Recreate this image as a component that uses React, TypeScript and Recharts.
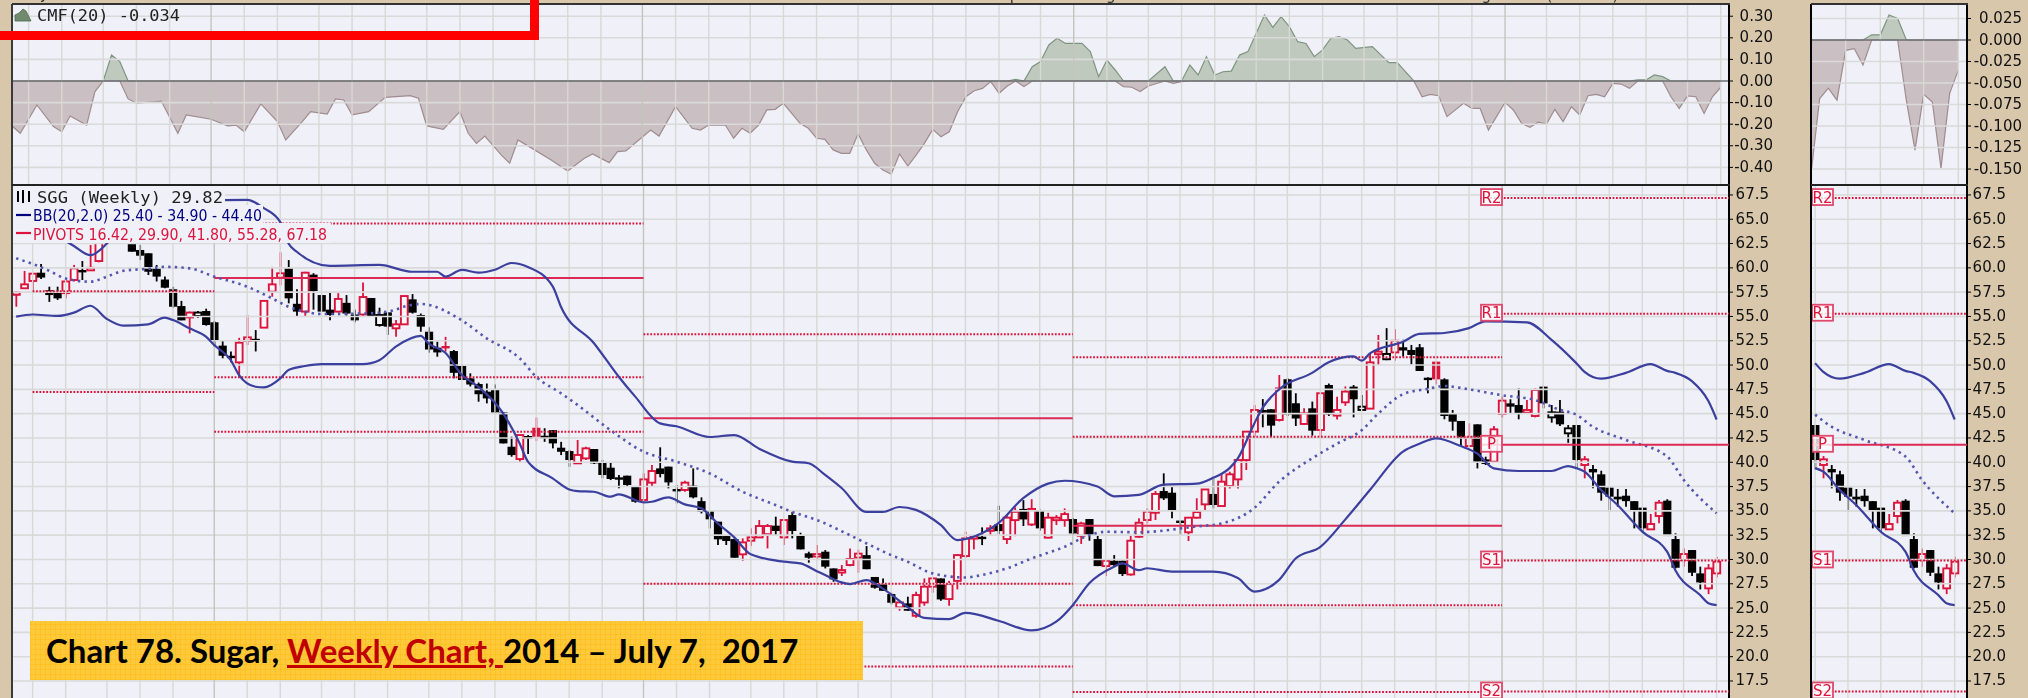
import React from "react";
import { ComposedChart, Bar, Line, Area, XAxis, YAxis, ReferenceLine } from "recharts";

const candleOpen = [57.34,57.9,58.65,59.5,57.7,57.55,57.4,58.75,59.78,59.85,60.7,63.2,64.5,63.6,62.5,61.84,61.5,59.95,58.8,57.8,56.07,54.9,55.05,55.56,54.4,52.0,50.96,50.28,52.5,52.7,53.85,57.55,59.0,59.95,56.3,55.5,59.3,57.2,55.7,55.5,56.4,55.2,55.2,56.9,54.12,55.42,53.78,54.19,56.76,55.15,53.43,51.79,51.96,51.44,49.9,48.63,48.05,47.26,47.43,45.13,41.6,40.33,42.7,43.55,42.73,43.3,41.5,41.15,
39.89,40.4,41.36,39.96,39.44,38.45,38.62,37.56,36.12,37.9,39.37,39.55,37.25,37.15,37.59,36.0,35.0,33.89,32.41,32.1,30.53,31.93,32.27,32.6,33.48,32.27,34.57,32.5,30.63,30.39,30.8,29.08,28.67,29.43,30.2,30.45,28.2,27.47,26.44,25.07,25.48,24.21,25.58,27.2,28.05,25.93,27.8,30.35,32.17,32.34,33.03,33.64,32.1,34.05,35.2,33.6,35.0,32.24,34.05,34.05,34.16,32.44,34.16,32.1,29.32,29.87,29.87,28.46,32.34,
34.06,34.81,37.04,36.87,34.0,32.8,34.3,35.67,36.74,35.5,37.56,38.24,40.23,43.15,45.38,45.45,44.35,48.54,46.07,43.94,45.55,43.32,47.95,44.8,46.17,47.78,45.38,45.52,51.2,50.6,51.3,51.83,51.55,51.83,48.7,50.35,48.53,45.03,44.25,41.67,43.9,40.3,40.06,44.97,46.06,45.89,45.1,44.76,47.78,44.62,45.21,42.98,43.83,39.72,39.31,38.76,37.39,36.46,36.56,36.0,35.33,33.1,34.47,36.05,32.1,29.94,30.97,28.57,27.03,28.57];
const candleHigh = [57.55,59.68,59.4,60.4,58.06,58.06,58.75,60.3,60.7,62.35,63.9,65,65,64,63.2,62.35,61.5,60.3,59.1,58.06,56.6,55.5,55.56,55.8,54.5,52.5,51.4,52.8,55.15,53.6,56.6,60.1,61.6,60.8,57.8,59.6,59.45,57.2,57.4,57.4,57.2,55.7,58.5,56.9,55.9,55.42,54.63,57.1,57.3,55.3,53.9,52.4,52.9,51.55,50,49.15,48.2,48.1,48,45.13,42.63,42.8,42.8,44.6,43.5,43.3,42.1,41.26,
42.29,41.6,41.36,40.23,39.96,38.69,38.62,37.56,38.86,39.72,41.54,39.55,37.66,38.1,39.37,36.39,35.0,33.89,32.5,32.17,32.17,33.2,34.06,33.65,34.4,34.13,34.9,32.75,30.8,31.49,30.97,29.08,29.43,31.14,31.0,31.38,28.2,28.05,26.58,25.75,26.17,26.68,28.05,28.15,28.05,27.8,30.56,32.85,32.5,33.3,33.54,35.53,34.57,35.36,36.1,36.2,35.15,34.8,34.57,35.25,34.23,33.88,34.16,32.44,30.0,30.45,29.87,32.44,34.23,
35.26,37.04,38.86,37.5,34.0,34.3,36.3,37.2,38.35,38.8,39.03,40.23,43.15,45.9,46.5,45.45,48.98,48.64,47.1,45.55,46.24,47.1,48.1,46.75,47.8,47.95,46.92,51.2,53.1,53.8,53.7,52.6,52.07,52.17,48.74,50.35,48.64,45.38,44.25,44.0,43.9,40.57,43.73,46.75,46.48,47.6,46.4,47.6,47.78,45.89,46.4,43.83,43.83,40.64,39.72,39.13,37.39,37.25,37.25,36.0,35.33,34.68,36.12,36.2,32.69,31.14,30.97,29.26,29.53,30.28];
const candleLow = [56.0,57.9,57.55,58.85,56.5,56.7,56.86,58.6,58.75,59.78,60.57,63,63.2,63,61.66,60.8,59.26,58.6,57.9,55.9,54.6,53.26,54.87,54.05,51.9,50.7,50.28,48.8,52.06,51.4,53.85,57.03,58.2,56.35,55.0,55.0,55.7,55.5,54.6,55.4,55.1,54.4,55.0,55.0,53.95,53.1,52.9,54.19,55.3,53.43,51.27,50.86,51.38,48.63,48.46,47.8,46.23,46.06,45.03,41.94,40.57,40.06,40.85,42.2,42.1,41.43,40.74,39.54,
39.89,40.23,39.82,38.35,38.17,37.32,37.49,35.84,36.12,37.49,38.45,37.32,35.77,36.97,36.29,34.74,33.2,31.49,31.49,30.18,29.87,31.38,32.27,31.14,32.5,31.49,32.17,31.04,29.67,29.94,29.08,27.71,28.3,29.3,28.64,29.0,27.0,26.78,25.38,24.73,24.73,24.0,25.24,26.58,25.75,25.24,26.92,30.2,31.04,31.48,32.5,32.58,31.6,32.4,33.44,33.44,32.96,32.17,33.54,33.37,32.6,31.6,31.93,29.32,28.3,29.3,28.3,28.33,32.24,
33.7,34.06,36.12,34.23,32.5,31.9,34.2,35.09,35.26,35.5,37.3,37.3,39.2,42.63,43.6,42.63,44.2,44.76,43.73,43.84,42.74,42.63,44.76,44.4,45.8,44.62,45.3,45.52,50.0,50.5,50.45,50.87,50.08,49.39,47.09,48.0,44.42,43.25,41.6,41.6,39.37,39.72,39.96,44.62,44.97,44.42,45.03,44.62,45.55,44.07,43.73,42.0,39.27,38.35,37.32,36.05,34.92,35.43,35.43,33.2,32.86,33.03,33.72,32.41,29.08,29.26,28.3,26.92,26.44,28.16];
const candleClose = [57.48,58.3,59.4,59.0,57.2,56.86,58.6,59.95,59.67,60.0,63.4,64.5,63.5,63.0,61.66,61.25,59.6,59.1,57.96,56.0,54.6,55.4,55.4,54.12,52.5,50.96,50.76,52.3,52.85,52.6,56.6,58.3,59.44,56.86,55.5,59.5,57.6,55.5,55.15,56.8,55.3,54.6,57.0,55.0,55.15,53.95,54.19,57.1,55.39,53.95,51.6,51.3,51.75,49.2,48.46,48.0,47.0,46.57,45.13,41.94,40.74,42.8,42.46,42.63,42.63,41.94,41.08,40.23,
40.75,41.43,39.89,38.69,38.28,38.28,37.66,35.94,38.24,39.1,38.79,37.93,37.04,37.9,36.39,34.9,34.13,32.07,31.9,30.18,31.76,32.27,33.44,33.44,32.93,34.06,32.93,31.04,30.18,30.56,29.26,27.95,28.91,30.05,30.6,29.0,27.09,26.78,25.55,25.58,24.73,26.34,27.2,28.05,25.89,27.47,30.45,32.17,32.4,32.24,33.2,32.92,34.3,34.9,34.12,35.2,33.2,34.3,34.3,34.67,32.68,33.7,32.51,29.32,29.87,29.42,28.5,31.93,33.78,
34.92,36.74,36.29,34.99,33.9,34.3,34.87,37.2,35.6,38.0,38.76,40.23,43.15,45.38,45.1,43.77,47.6,44.93,44.5,45.04,43.25,47.1,44.93,45.38,47.27,46.48,45.72,50.28,51.38,51.14,52.5,51.5,51.04,49.39,48.53,48.53,44.76,44.18,42.46,42.53,40.06,39.82,43.39,46.34,45.72,44.97,45.38,47.44,46.06,45.14,43.9,43.49,40.23,40.3,38.96,36.87,36.46,36.18,36.0,35.09,33.2,33.65,35.84,32.41,29.15,30.56,28.64,27.64,29.08,29.77];
const hollowBlackWeeks = [22, 44, 163, 166, 186, 188];
const filledRedWeeks = [52, 63, 172];

const upperBand: number[][] = [[3,64.5],[5,63.3],[7,62.25],[9,61.3],[11,62.5],[13,64.5],[15,65.5],[19,66.5],[25,66.97],[28,67],[30,66.15],[32,64.7],[33,62.5],[34,61.66],[38,60.2],[44,60.3],[48,59.6],[51,59.6],[52,59.1],[54,59.8],[56,59.5],[58,59.8],[60,60.5],[62,60.1],[65,58.1],[66,56],[70,52.25],[73,48.8],[75,46.75],[78,44.0],[80,43.7],[84,42.6],[87,42.8],[90,41.4],[94,40.06],[96,39.9],[98,38.7],[100,37.35],[103,34.9],[105,34.9],[107,35.4],[109,35.1],[112,33.55],[114,32],[117,32.7],[119,33.75],[122,36.3],[125,37.8],[127,38.1],[131,37.5],[133,36.5],[136,36.65],[139,37.7],[143,37.8],[145,38.4],[147,39.4],[148,40.4],[150,44],[151,45.6],[153,47.5],[157,49.2],[159,50.3],[162,50.9],[163,50.45],[164,51.2],[168,52.4],[170,53.2],[173,53.3],[176,53.8],[178,54.5],[183,54.4],[186,52.6],[189,50.2],[190,49.3],[192,48.6],[195,49.2],[198,50.1],[200,49.4],[201,49.2],[203,48.35],[205,46.3],[206,44.4]];
const middleBand: number[][] = [[0,60.98],[2,60.4],[4,59.7],[6,58.9],[9,58.58],[11,59.1],[13,59.7],[16,59.9],[18,60.1],[21,59.95],[24,59.1],[28,58.06],[31,56.86],[33,56.0],[35,55.5],[37,55.25],[42,55.3],[45,55.5],[48,56.2],[49,56.28],[54,54.6],[57,52.75],[61,50.7],[63,48.8],[66,47.1],[68,45.9],[72,43.3],[76,41.1],[80,40.06],[84,38.86],[88,36.97],[92,35.6],[94,34.9],[97,34.06],[101,32.5],[103,31.66],[106,30.45],[108,29.77],[111,28.57],[115,28.15],[117,28.4],[120,29.08],[123,30.1],[127,31.3],[130,32.5],[132,32.85],[136,32.8],[143,33.4],[146,33.7],[150,35.3],[153,38],[157,40.4],[160,41.9],[163,43.3],[165,45],[168,47],[171,47.55],[173,47.85],[176,47.5],[180,46.9],[184,46.4],[187,45.4],[189,44.9],[191,43.66],[195,42.3],[200,40.6],[202,38.2],[206,34.75]];
const lowerBand: number[][] = [[0,54.98],[2,55.2],[5,55.05],[7,55.39],[9,56.1],[11,54.74],[13,54.05],[16,54.19],[18,54.87],[19,54.63],[21,53.78],[23,52.92],[24,52.06],[26,50.5],[27,48.97],[29,47.77],[30,47.7],[32,48.63],[33,49.49],[35,49.9],[37,50.1],[42,50.1],[44,50.5],[46,51.9],[49,53.0],[50,52.2],[52,51.27],[54,48.97],[56,47.77],[59,45.03],[61,41.94],[62,40.06],[65,38.34],[67,37.2],[68,37.04],[70,36.97],[72,36.46],[73,36.7],[76,35.88],[77,35.94],[79,36.39],[81,35.67],[83,35.26],[85,33.7],[87,32.27],[89,30.53],[93,29.77],[95,29.6],[97,28.8],[98,28.4],[100,27.64],[101,27.47],[103,27.88],[105,27.0],[108,25.1],[110,24.0],[113,23.87],[115,24.5],[119,23.7],[123,22.7],[126,23.6],[128,25.3],[130,27.55],[133,29.25],[134,29.6],[136,28.9],[137,29.1],[140,28.75],[145,28.75],[148,28.1],[150,26.7],[153,27.9],[155,30.1],[158,31.3],[161,34.1],[164,37.15],[168,41.1],[170,41.9],[172,42.46],[175,41.67],[177,40.9],[179,39.37],[182,39.1],[186,39.1],[188,39.6],[189,39.4],[190,39.03],[192,37.15],[194,35.6],[197,32.86],[200,30.8],[201,28.9],[204,26.34],[205,25.5],[206,25.3]];

const weeklyCmf: number[][] = [[0,-.208],[1,-.242],[3,-.111],[5,-.211],[6,-.235],[7,-.162],[9,-.204],[10,-.049],[11,0],[12,.12],[13,.09],[14,-.083],[15,-.103],[18,-.093],[20,-.242],[21,-.157],[24,-.177],[26,-.208],[27,-.204],[28,-.235],[30,-.106],[32,-.188],[33,-.273],[35,-.188],[36,-.142],[38,-.153],[39,-.083],[40,-.088],[41,-.157],[43,-.142],[45,-.076],[48,-.068],[49,-.08],[50,-.208],[52,-.224],[54,-.142],[55,-.242],[56,-.289],[57,-.255],[59,-.343],[60,-.381],[61,-.273],[63,-.319],[65,-.366],[67,-.417],[69,-.358],[70,-.338],[72,-.378],[73,-.327],[74,-.324],[77,-.227],[78,-.255],[80,-.119],[82,-.219],[83,-.227],[84,-.204],[86,-.204],[87,-.265],[88,-.219],[89,-.242],[90,-.204],[91,-.134],[92,-.131],[93,-.103],[95,-.196],[96,-.219],[97,-.265],[98,-.27],[99,-.319],[100,-.335],[101,-.335],[102,-.245],[103,-.319],[104,-.381],[105,-.412],[106,-.432],[107,-.338],[108,-.394],[109,-.343],[110,-.289],[111,-.224],[112,-.258],[113,-.235],[114,-.142],[115,-.073],[116,-.045],[117,-.034],[118,-.003],[119,-.057],[120,-.023],[121,.008],[122,-.026],[123,.066],[124,.09],[125,.167],[126,.198],[127,.174],[129,.174],[130,.136],[131,.02],[132,.097],[133,.051],[134,-.026],[135,-.029],[136,-.049],[137,-.023],[139,.066],[140,-.011],[141,-.003],[142,.074],[143,.028],[144,.113],[145,.028],[146,.043],[147,.046],[148,.12],[149,.136],[150,.221],[151,.306],[152,.248],[153,.298],[154,.252],[155,.182],[156,.174],[157,.113],[158,.144],[159,.198],[160,.205],[161,.19],[162,.151],[164,.159],[166,.085],[167,.085],[169,0],[170,-.073],[171,-.062],[172,-.068],[173,-.165],[175,-.103],[176,-.127],[177,-.127],[178,-.227],[180,-.099],[181,-.134],[182,-.196],[183,-.215],[184,-.191],[185,-.199],[186,-.131],[187,-.188],[188,-.119],[189,-.157],[190,-.068],[191,-.062],[192,-.073],[193,-.011],[194,-.014],[195,-.034],[196,.005],[197,.005],[198,.028],[199,.02],[200,-.073],[201,-.127],[202,-.069],[203,-.073],[204,-.15],[205,-.073],[206,-.029]];
const dailyCmf: number[][] = [[189,-.156],[190,-.068],[191,-.056],[192,-.07],[193,-.012],[194,-.01],[195,-.029],[196,.006],[197,.006],[198,.029],[199,.025],[200,-.07],[201,-.128],[202,-.063],[203,-.072],[204,-.149],[205,-.062],[206,-.035]];

const monthWeeks = [2,6,11,15,19,24,28,32,37,41,45,50,54,58,63,67,71,76,80,84,89,93,97,102,106,111,115,119,124,128,132,137,141,145,150,154,158,163,167,172,176,180,185,189,193,197,202,206];
const yearWeeks = [24, 76, 128, 180];
const priceTicks = [67.5,65,62.5,60,57.5,55,52.5,50,47.5,45,42.5,40,37.5,35,32.5,30,27.5,25,22.5,20,17.5];
const weeklyCmfTicks = [0.3,0.2,0.1,0,-0.1,-0.2,-0.3,-0.4];
const dailyCmfTicks = [0.025,0,-0.025,-0.05,-0.075,-0.1,-0.125,-0.15];

const pivotNames = ["R2","R1","P","S1","S2"];
const pivotLevels = [67.18,55.28,41.8,29.9,16.42];
const pastDotted: number[][] = [[2,24,57.59],[2,24,47.23],[24,76,64.55],[24,76,48.74],[24,76,43.15],[76,128,53.17],[76,128,27.5],[76,128,19.0],[128,180,50.8],[128,180,42.63],[128,180,25.28],[128,180,16.37]];
const pastSolid: number[][] = [[24,76,58.96],[76,128,44.52],[128,180,33.48]];

const BG = "#EFF0F8", TAN = "#D8C7AB", CRIMSON = "#DC143C", BAND = "#3B3F9E";

type Row = any;
const rows: Row[] = candleOpen.map((o, i) => ({
  i, open: o, high: candleHigh[i], low: candleLow[i], close: candleClose[i],
  range: [candleLow[i], candleHigh[i]],
  hollowBlack: hollowBlackWeeks.includes(i), filledRed: filledRedWeeks.includes(i),
}));
rows.push({ i: rows.length });
upperBand.forEach(([w, v]) => { rows[w].upper = v; });
middleBand.forEach(([w, v]) => { rows[w].middle = v; });
lowerBand.forEach(([w, v]) => { rows[w].lower = v; });
const cmfRows = (src: number[][], from: number) => {
  const out: Row[] = rows.slice(from).map((r) => ({ i: r.i }));
  src.forEach(([w, v]) => {
    const r = out[w - from];
    r.pos = Math.max(v, 0);
    r.neg = Math.min(v, 0);
  });
  return out;
};

const Candle = (props: any) => {
  const { x, width, y, height, payload } = props;
  if (payload.open == null) return <g />;
  const k = height / (payload.high - payload.low);
  const py = (v: number) => y + (payload.high - v) * k;
  const cx = x + width / 2;
  const up = payload.close >= payload.open;
  const color = up ? (payload.hollowBlack ? "#000" : CRIMSON) : payload.filledRed ? CRIMSON : "#000";
  const top = py(Math.max(payload.open, payload.close));
  const bot = py(Math.min(payload.open, payload.close));
  const h = Math.max(bot - top, up ? 2.5 : 2.4);
  return (
    <g>
      <line x1={cx} x2={cx} y1={y} y2={y + height} stroke={color} strokeWidth={1.8} />
      {up ? (
        <rect x={cx - 3.4} width={6.8} y={top} height={h} fill="#F8F8FD" stroke={color} strokeWidth={1.9} />
      ) : (
        <rect x={cx - 4.1} width={8.2} y={top} height={h} fill={color} />
      )}
    </g>
  );
};

const tick = (plotW: number, end: number, digits: number) => (p: any) => (
  <text x={plotW + end} y={p.y + 4.5} textAnchor="end" fontSize={15} fontFamily="DejaVu Sans" fill="#111">
    {Number(p.payload.value).toFixed(digits)}
  </text>
);

const gridColor = "#DADADA";
const hLines = (ticks: number[]) =>
  ticks.map((t) => <ReferenceLine key={`h${t}`} y={t} stroke={gridColor} strokeWidth={1.6} />);
const vLines = (weeks: number[]) =>
  weeks.map((w) => (
    <ReferenceLine key={`v${w}`} x={w} stroke={yearWeeks.includes(w) ? "#C4C4BE" : "#D8D8D4"} strokeWidth={1.4} />
  ));

function CmfChart({ left, plotW, axisW, data, domain, ticks, end, digits, weeks }: any) {
  return (
    <ComposedChart width={plotW + axisW} height={179} data={data} margin={{ top: 0, right: 0, bottom: 0, left: 0 }}
      style={{ position: "absolute", left, top: 5 }}>
      <XAxis dataKey="i" hide interval={0} />
      <YAxis orientation="right" width={axisW} domain={domain} ticks={ticks} interval={0} allowDataOverflow
        axisLine={{ stroke: "#000", strokeWidth: 2 }} tickLine={{ stroke: "#000" }} tickSize={4}
        tick={tick(plotW, end, digits)} />
      {hLines(ticks.filter((t: number) => t !== 0))}
      {vLines(weeks)}
      <Area dataKey="neg" type="linear" connectNulls isAnimationActive={false} stroke="#A08C8E" strokeWidth={1.2} fill="#A58E8C" fillOpacity={0.5} dot={false} activeDot={false} />
      <Area dataKey="pos" type="linear" connectNulls isAnimationActive={false} stroke="#7F9480" strokeWidth={1.2} fill="#8FA284" fillOpacity={0.5} dot={false} activeDot={false} />
      <ReferenceLine y={0} stroke="#6E6E72" strokeWidth={1.6} />
    </ComposedChart>
  );
}

const priceDomain: [number, number] = [15.75, 68.42];

function PriceChart({ left, plotW, axisW, data, end, weeks, past }: any) {
  return (
    <ComposedChart width={plotW + axisW} height={512} data={data} margin={{ top: 0, right: 0, bottom: 0, left: 0 }}
      style={{ position: "absolute", left, top: 186 }}>
      <XAxis dataKey="i" hide interval={0} />
      <YAxis orientation="right" width={axisW} domain={priceDomain} ticks={priceTicks} interval={0} allowDataOverflow
        axisLine={{ stroke: "#000", strokeWidth: 2 }} tickLine={{ stroke: "#000" }} tickSize={4}
        tick={tick(plotW, end, 1)} />
      {hLines(priceTicks)}
      {vLines(weeks)}
      {past && pastDotted.map(([a, b, v], n) => (
        <ReferenceLine key={`d${n}`} segment={[{ x: a, y: v }, { x: b, y: v }]} stroke={CRIMSON} strokeWidth={2} strokeDasharray="1.8 1.6" />
      ))}
      {past && pastSolid.map(([a, b, v], n) => (
        <ReferenceLine key={`s${n}`} segment={[{ x: a, y: v }, { x: b, y: v }]} stroke="#DC2A55" strokeWidth={2} />
      ))}
      <Line type="monotone" dataKey="upper" connectNulls dot={false} activeDot={false} isAnimationActive={false} stroke={BAND} strokeWidth={2.2} />
      <Line type="monotone" dataKey="lower" connectNulls dot={false} activeDot={false} isAnimationActive={false} stroke={BAND} strokeWidth={2.2} />
      <Line type="monotone" dataKey="middle" connectNulls dot={false} activeDot={false} isAnimationActive={false} stroke="#5357AE" strokeWidth={2.6} strokeDasharray="2.4 4.2" />
      <Bar dataKey="range" shape={Candle} isAnimationActive={false} />
    </ComposedChart>
  );
}

const PivotTag = ({ viewBox, name }: any) => (
  <g>
    <rect x={viewBox.x + 1} y={viewBox.y - 9} width={21} height={16} fill="#FFFFFF" fillOpacity={0.8} stroke="#E0486C" strokeWidth={1.8} />
    <text x={viewBox.x + 11.5} y={viewBox.y + 4.5} textAnchor="middle" fontSize={15} fontFamily="DejaVu Sans" fill={CRIMSON}>{name}</text>
  </g>
);

function PivotOverlay({ left, width }: any) {
  return (
    <ComposedChart width={width} height={512} data={rows.slice(-2)} margin={{ top: 0, right: 0, bottom: 0, left: 0 }}
      style={{ position: "absolute", left, top: 186 }}>
      <XAxis dataKey="i" hide />
      <YAxis hide domain={priceDomain} allowDataOverflow />
      {pivotLevels.map((v, n) => (
        <ReferenceLine key={pivotNames[n]} y={v} stroke={pivotNames[n] === "P" ? "#DC2A55" : CRIMSON}
          strokeWidth={pivotNames[n] === "P" ? 2.2 : 2} strokeDasharray={pivotNames[n] === "P" ? undefined : "1.8 1.6"}
          label={(p: any) => <PivotTag viewBox={p.viewBox} name={pivotNames[n]} />} />
      ))}
    </ComposedChart>
  );
}

const box = (left: number, top: number, width: number, height: number, background: string): React.CSSProperties =>
  ({ position: "absolute", left, top, width, height, background });

export default function App() {
  const rightRows = rows.slice(189);
  const rightWeeks = monthWeeks.filter((w) => w >= 189);
  return (
    <div style={{ position: "absolute", left: 0, top: 0, width: 2028, height: 698, overflow: "hidden", background: TAN }}>
      <div style={{ position: "absolute", left: 0, top: 0, width: 2028, height: 698, filter: "blur(0.5px)" }}>
        <div style={box(12, 4, 1717, 694, BG)} />
        <div style={box(1811, 4, 156, 694, BG)} />

        <CmfChart left={12} plotW={1717} axisW={70} data={cmfRows(weeklyCmf, 0)} domain={[-0.477, 0.352]} ticks={weeklyCmfTicks} end={44} digits={2} weeks={monthWeeks} />
        <CmfChart left={1811} plotW={156} axisW={61} data={cmfRows(dailyCmf, 189)} domain={[-0.1674, 0.0407]} ticks={dailyCmfTicks} end={55} digits={3} weeks={rightWeeks} />
        <PriceChart left={12} plotW={1717} axisW={70} data={rows} end={40} weeks={monthWeeks} past />
        <PriceChart left={1811} plotW={156} axisW={61} data={rightRows} end={39} weeks={rightWeeks} />
        <PivotOverlay left={1480} width={249} />
        <PivotOverlay left={1811} width={156} />

        <div style={box(11, 4, 2, 694, "#3A3A3A")} />
        <div style={box(1810, 4, 2, 694, "#000")} />
        <div style={box(12, 3, 1718, 2, "#333")} />
        <div style={box(1811, 3, 157, 2, "#333")} />
        <div style={box(12, 184, 1718, 2, "#222")} />
        <div style={box(1811, 184, 157, 2, "#222")} />

        <svg width={2028} height={698} style={{ position: "absolute", left: 0, top: 0 }}>
          <g fontFamily="DejaVu Sans" fontSize={15} fill="#333">
            <text x={26} y={-1}>7-Jul-2017</text>
            <text x={998} y={0}>Open 29.11  High 30.20  Low 28.16  Close 29.82  Volume 12.7K  Chg +0.76 (+2.61%)</text>
          </g>
          <rect x={13} y={186} width={212} height={19} fill={BG} />
          <rect x={13} y={205} width={250} height={18} fill={BG} />
          <rect x={13} y={223} width={318} height={20} fill={BG} />
          <polygon points="15,21 15,15 19,13 23,9 26,11 31,21" fill="#6F8A6E" stroke="#4D6B4D" strokeWidth={0.8} />
          <g stroke="#000" strokeWidth={2}>
            <line x1={18} x2={18} y1={191} y2={202} /><line x1={23} x2={23} y1={190} y2={203} /><line x1={29} x2={29} y1={191} y2={202} />
          </g>
          <line x1={16} x2={31} y1={215} y2={215} stroke="#000080" strokeWidth={2.2} />
          <line x1={16} x2={31} y1={233} y2={233} stroke={CRIMSON} strokeWidth={2.2} />
          <text x={37} y={21} fontFamily="DejaVu Sans Mono" fontSize={16.5} fill="#222" textLength={143} lengthAdjust="spacingAndGlyphs">CMF(20) -0.034</text>
          <text x={37} y={203} fontFamily="DejaVu Sans Mono" fontSize={16.5} fill="#222" textLength={186} lengthAdjust="spacingAndGlyphs">SGG (Weekly) 29.82</text>
          <text x={33} y={221} fontFamily="DejaVu Sans" fontSize={15.5} fill="#000080" textLength={229} lengthAdjust="spacingAndGlyphs">BB(20,2.0) 25.40 - 34.90 - 44.40</text>
          <text x={33} y={240} fontFamily="DejaVu Sans" fontSize={15.5} fill={CRIMSON} textLength={294} lengthAdjust="spacingAndGlyphs">PIVOTS 16.42, 29.90, 41.80, 55.28, 67.18</text>
        </svg>
      </div>

      <div style={box(0, 31, 538, 9, "#FF0000")} />
      <div style={box(530, 0, 8.5, 40, "#FF0000")} />

      <div style={{ ...box(30, 621, 833, 59, "#FFC93C"), backgroundImage: "repeating-linear-gradient(90deg, rgba(255,180,0,.35) 0 1px, transparent 1px 5px), repeating-linear-gradient(0deg, rgba(255,180,0,.35) 0 1px, transparent 1px 5px)", fontFamily: "Lato", fontWeight: 700, fontSize: 33, lineHeight: "59px", color: "#000", whiteSpace: "pre", paddingLeft: 16, boxSizing: "border-box" }}>
        Chart 78. Sugar, <span style={{ color: "#C00000", textDecoration: "underline", textDecorationThickness: 3 }}>Weekly Chart, </span>2014 – July 7,  2017
      </div>
    </div>
  );
}
